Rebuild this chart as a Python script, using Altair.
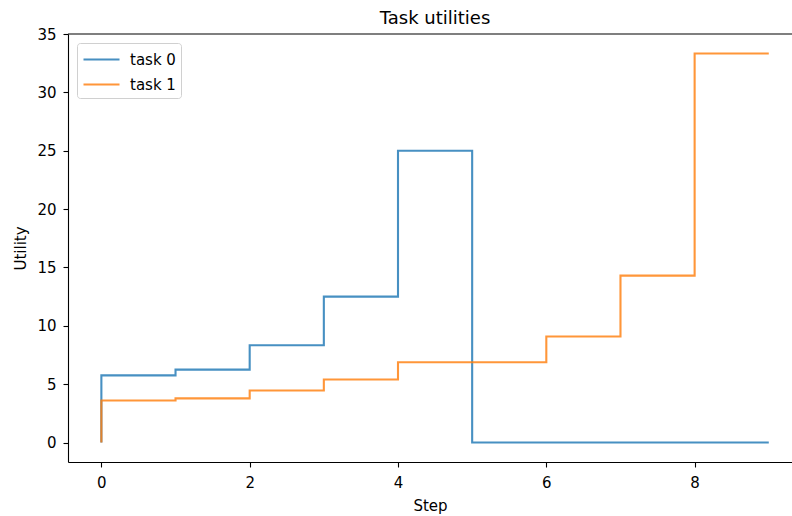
import altair as alt
import pandas as pd

steps = [0, 1, 2, 3, 4, 5, 6, 7, 8, 9]
task0 = [0, 5.75, 6.25, 8.33, 12.5, 25.0, 0, 0, 0, 0]
task1 = [0, 3.6, 3.78, 4.46, 5.4, 6.88, 6.88, 9.09, 14.3, 33.33]
series_names = ["task 0", "task 1"]
colors = ["#1f77b4", "#ff7f0e"]

rows = []
for name, vals in zip(series_names, [task0, task1]):
    for s, v in zip(steps, vals):
        rows.append({"Step": s, "Utility": v, "task": name})
df = pd.DataFrame(rows)

W, H = 724, 428
FONT = "DejaVu Sans"
FS = 15

lines = alt.Chart(df).mark_line(
    interpolate="step-before", strokeWidth=2.1, opacity=0.82
).encode(
    x=alt.X("Step:Q",
            scale=alt.Scale(domain=[-0.45, 9.313], nice=False, zero=False),
            axis=alt.Axis(values=[0, 2, 4, 6, 8], title="Step", grid=False,
                          labelFontSize=FS, titleFontSize=FS, titleFontWeight="normal",
                          titlePadding=8, labelPadding=8, tickSize=5,
                          domainColor="black", tickColor="black", labelColor="black",
                          titleColor="black", domainWidth=1.1, tickWidth=1.1,
                          labelFont=FONT, titleFont=FONT)),
    y=alt.Y("Utility:Q",
            scale=alt.Scale(domain=[-1.667, 35], nice=False, zero=False),
            axis=alt.Axis(values=[0, 5, 10, 15, 20, 25, 30, 35], title="Utility", grid=False,
                          labelFontSize=FS, titleFontSize=FS, titleFontWeight="normal",
                          titlePadding=8, labelPadding=7, tickSize=5,
                          domainColor="black", tickColor="black", labelColor="black",
                          titleColor="black", domainWidth=1.1, tickWidth=1.1,
                          labelFont=FONT, titleFont=FONT)),
    color=alt.Color("task:N",
                    scale=alt.Scale(domain=series_names, range=colors),
                    legend=alt.Legend(title=None, orient="top-left", offset=9,
                                      symbolType="M-1,0H2.6", symbolSize=400,
                                      symbolStrokeWidth=2.1, symbolOpacity=0.82,
                                      labelFontSize=FS, labelFont=FONT, labelColor="black",
                                      labelOffset=25, rowPadding=5,
                                      fillColor="white", strokeColor="#d0d0d0",
                                      cornerRadius=3, padding=5)),
)

top_spine = alt.Chart(pd.DataFrame({"a": [0]})).mark_rule(
    color="black", strokeWidth=1.1
).encode(x=alt.value(0), x2=alt.value(W), y=alt.value(0))

chart = alt.layer(lines, top_spine).properties(
    width=W, height=H,
    title=alt.TitleParams("Task utilities", fontSize=18, font=FONT, fontWeight="normal",
                          color="black", anchor="middle", offset=8, dx=5, dy=9),
    autosize=alt.AutoSizeParams(type="none"),
    padding={"left": 68, "top": 34, "right": 0, "bottom": 54},
).configure_view(stroke=None)

chart.save("out.html", embed_options={"renderer": "svg", "actions": False})
